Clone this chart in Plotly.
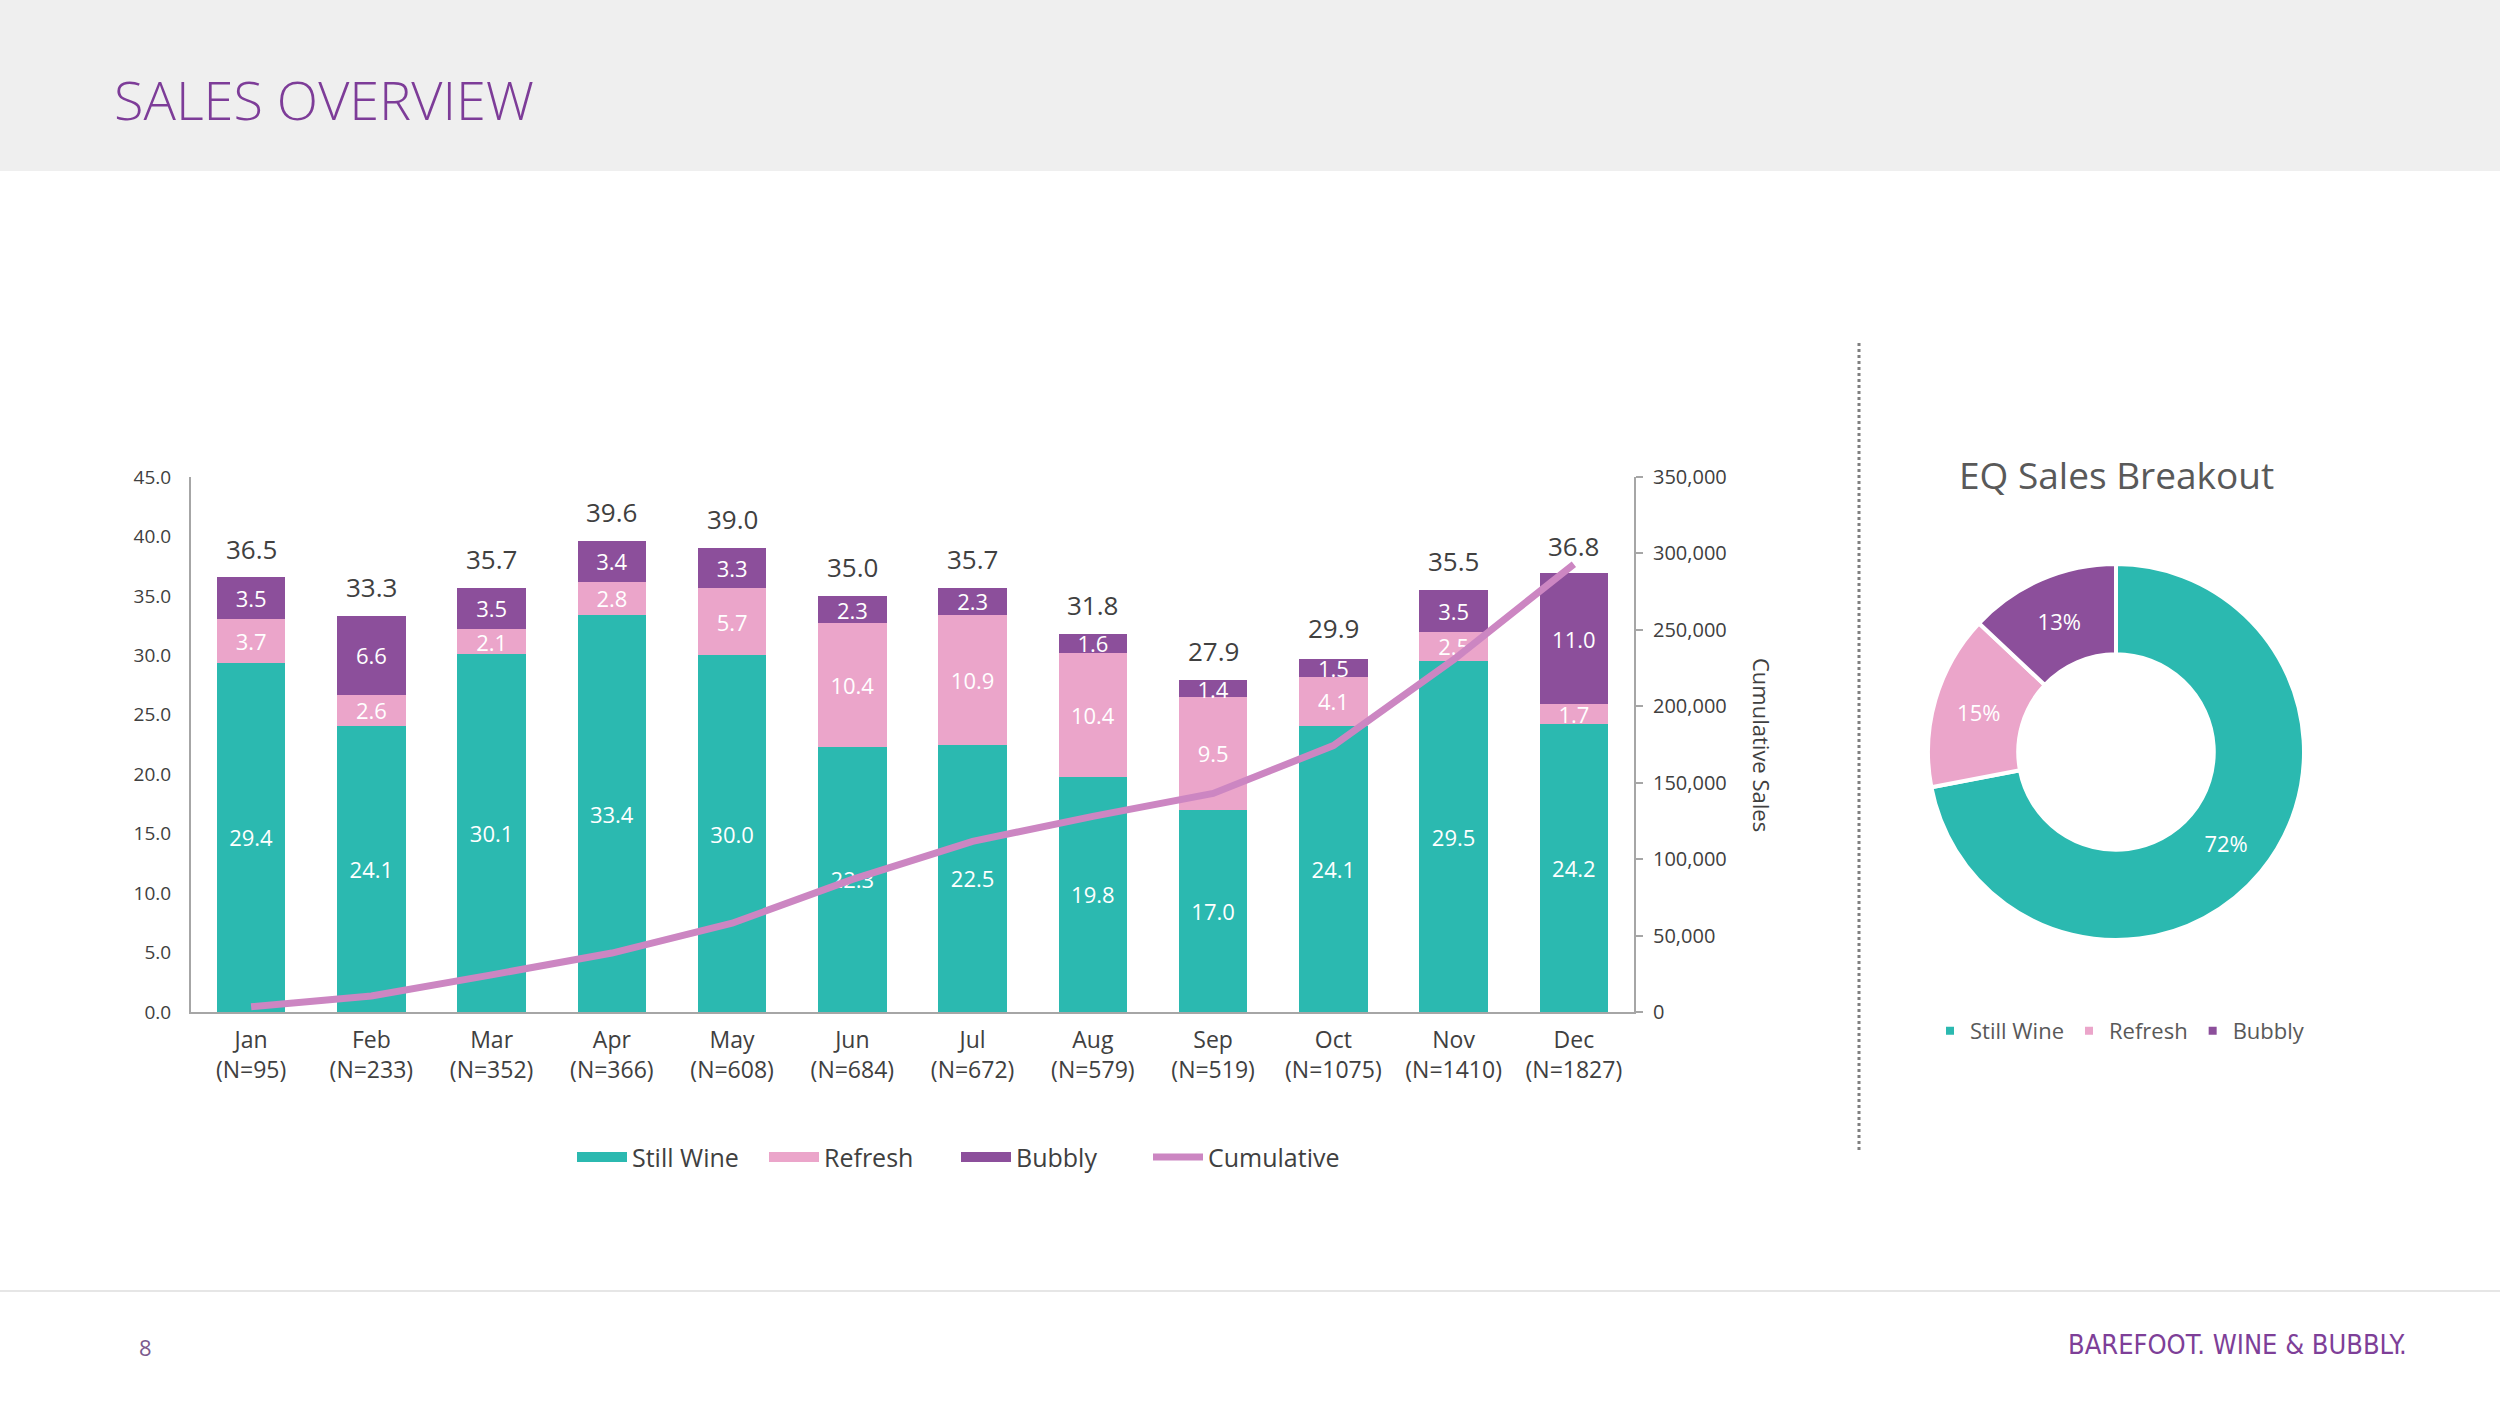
import plotly.graph_objects as go

# ---------------- data ----------------
months = ["Jan", "Feb", "Mar", "Apr", "May", "Jun", "Jul", "Aug", "Sep", "Oct", "Nov", "Dec"]
n_counts = [95, 233, 352, 366, 608, 684, 672, 579, 519, 1075, 1410, 1827]
still_wine = [29.4, 24.1, 30.1, 33.4, 30.0, 22.3, 22.5, 19.8, 17.0, 24.1, 29.5, 24.2]
refresh = [3.7, 2.6, 2.1, 2.8, 5.7, 10.4, 10.9, 10.4, 9.5, 4.1, 2.5, 1.7]
bubbly = [3.5, 6.6, 3.5, 3.4, 3.3, 2.3, 2.3, 1.6, 1.4, 1.5, 3.5, 11.0]
totals = [36.5, 33.3, 35.7, 39.6, 39.0, 35.0, 35.7, 31.8, 27.9, 29.9, 35.5, 36.8]
cumulative = [3500, 10500, 24300, 38600, 58100, 86800, 111700, 128000, 143000, 174300, 230500, 293000]
pie_labels = ["Still Wine", "Refresh", "Bubbly"]
pie_values = [72, 15, 13]

# ---------------- style ----------------
TEAL = "#2BB9B0"
PINK = "#EBA5CA"
PURPLE = "#8C4F9B"
LINEC = "#CC86C2"
AXIS = "#A6A6A6"
TXT = "#404040"
FONT = "Open Sans"

cats = [f"{m}<br>(N={n})" for m, n in zip(months, n_counts)]

fig = go.Figure()

for name, vals, col in [("Still Wine", still_wine, TEAL), ("Refresh", refresh, PINK), ("Bubbly", bubbly, PURPLE)]:
    fig.add_trace(go.Bar(
        x=cats, y=vals, name=name, marker=dict(color=col, line=dict(width=0)),
        texttemplate="%{y:.1f}", textposition="inside", insidetextanchor="middle",
        textangle=0, constraintext="none", cliponaxis=False,
        textfont=dict(color="white", size=22, family=FONT),
        showlegend=False,
    ))

# legend stand-ins for the bar series (wide rectangles)
for name, col in [("Still Wine", TEAL), ("Refresh", PINK), ("Bubbly", PURPLE)]:
    fig.add_trace(go.Scatter(
        x=[None], y=[None], mode="lines", name=name,
        line=dict(color=col, width=18), legend="legend", showlegend=True,
    ))

# cumulative line
fig.add_trace(go.Scatter(
    x=cats, y=cumulative, yaxis="y2", mode="lines", name="Cumulative",
    line=dict(color=LINEC, width=7), legend="legend", cliponaxis=False,
))

# donut
fig.add_trace(go.Pie(
    labels=pie_labels, values=pie_values, hole=0.52, sort=False,
    direction="clockwise", rotation=0,
    marker=dict(colors=[TEAL, PINK, PURPLE], line=dict(color="white", width=4)),
    textinfo="percent", texttemplate="%{percent:.0%}", textposition="inside",
    insidetextorientation="horizontal",
    textfont=dict(color="white", size=20, family=FONT),
    domain=dict(x=[0.7712, 0.9216], y=[0.3314, 0.5989]),
    legend="legend2", showlegend=True,
))

# totals above the bars
total_annotations = [
    dict(x=c, y=t, xref="x", yref="y", text=f"{t:.1f}", showarrow=False,
         yshift=29, yanchor="middle", xanchor="center",
         font=dict(size=26, color=TXT, family=FONT))
    for c, t in zip(cats, totals)
]

fig.update_layout(
    width=2500, height=1406,
    margin=dict(l=0, r=0, t=0, b=0, pad=0, autoexpand=False),
    paper_bgcolor="white", plot_bgcolor="white",
    font=dict(family=FONT, color=TXT),
    barmode="stack", bargap=0.43,
    uniformtext=dict(mode="show", minsize=22),
    xaxis=dict(
        domain=[0.0764, 0.6536], anchor="y", range=[-0.5, 11.5], showline=True,
        linecolor=AXIS, linewidth=2, automargin=False,
        ticks="", tickfont=dict(size=23, color=TXT), showgrid=False, ticklabelstandoff=6,
    ),
    yaxis=dict(
        domain=[0.2802, 0.6607], range=[0, 45], dtick=5, tickformat=".1f", automargin=False,
        showline=True, linecolor=AXIS, linewidth=2, ticks="", showgrid=False, zeroline=False,
        tickfont=dict(size=19, color=TXT), ticklabelstandoff=14,
    ),
    yaxis2=dict(
        overlaying="y", side="right", anchor="x", range=[0, 350000], dtick=50000, tickformat=",",
        showline=True, linecolor=AXIS, linewidth=2, ticks="outside", ticklen=7, tickcolor=AXIS,
        tickwidth=2, showgrid=False, zeroline=False, tickfont=dict(size=20, color=TXT),
        ticklabelstandoff=6, automargin=False,
    ),
    legend=dict(
        orientation="h", x=0.3824, xanchor="center", y=0.177, yanchor="middle",
        font=dict(size=25, color=TXT, family=FONT), itemwidth=50, traceorder="normal",
        entrywidth=127, entrywidthmode="pixels",
        bgcolor="rgba(0,0,0,0)",
    ),
    legend2=dict(
        orientation="h", x=0.848, xanchor="center", y=0.2667, yanchor="middle",
        font=dict(size=22, color="#595959", family=FONT), bgcolor="rgba(0,0,0,0)",
    ),
    shapes=[
        dict(type="rect", xref="paper", yref="paper", x0=0, x1=1, y0=1 - 171 / 1406, y1=1,
             fillcolor="#EFEFEF", line=dict(width=0), layer="below"),
        dict(type="line", xref="paper", yref="paper", x0=0, x1=1, y0=1 - 1291 / 1406, y1=1 - 1291 / 1406,
             line=dict(color="#E6E6E6", width=2), layer="below"),
        dict(type="line", xref="paper", yref="paper", x0=1859 / 2500, x1=1859 / 2500,
             y0=1 - 343 / 1406, y1=1 - 1153 / 1406,
             line=dict(color="#7F7F7F", width=3, dash="dot"), layer="below"),
    ],
    annotations=total_annotations + [
        dict(text="SALES OVERVIEW", xref="paper", yref="paper", x=112 / 2500, y=1 - 99 / 1406,
             xanchor="left", yanchor="middle", showarrow=False,
             font=dict(size=54, color="#7D3C98", family=FONT, weight=300)),
        dict(text="Cumulative Sales", xref="paper", yref="paper", x=1762 / 2500, y=1 - 745 / 1406,
             xanchor="center", yanchor="middle", textangle=90, showarrow=False,
             font=dict(size=22, color=TXT, family=FONT)),
        dict(text="EQ Sales Breakout", xref="paper", yref="paper", x=2116 / 2500, y=1 - 474 / 1406,
             xanchor="center", yanchor="middle", showarrow=False,
             font=dict(size=37, color="#595959", family=FONT)),
        dict(text="8", xref="paper", yref="paper", x=145 / 2500, y=1 - 1347 / 1406,
             xanchor="center", yanchor="middle", showarrow=False,
             font=dict(size=22, color="#7B5A8E", family=FONT)),
        dict(text="BAREFOOT. WINE & BUBBLY.", xref="paper", yref="paper", x=2237 / 2500, y=1 - 1344 / 1406,
             xanchor="center", yanchor="middle", showarrow=False,
             font=dict(size=27, color="#7E3F98", family="DejaVu Sans Condensed, DejaVu Sans")),
    ],
)

fig.write_html(
    "out.html",
    config={"displayModeBar": False},
    post_script=(
        "document.documentElement.style.margin='0';document.documentElement.style.padding='0';"
        "document.body.style.margin='0';document.body.style.padding='0';"
        "document.documentElement.style.overflow='hidden';document.body.style.overflow='hidden';"
        "var gd=document.getElementById('{plot_id}');"
        "gd.style.position='fixed';gd.style.top='0px';gd.style.left='0px';"
    ),
)
